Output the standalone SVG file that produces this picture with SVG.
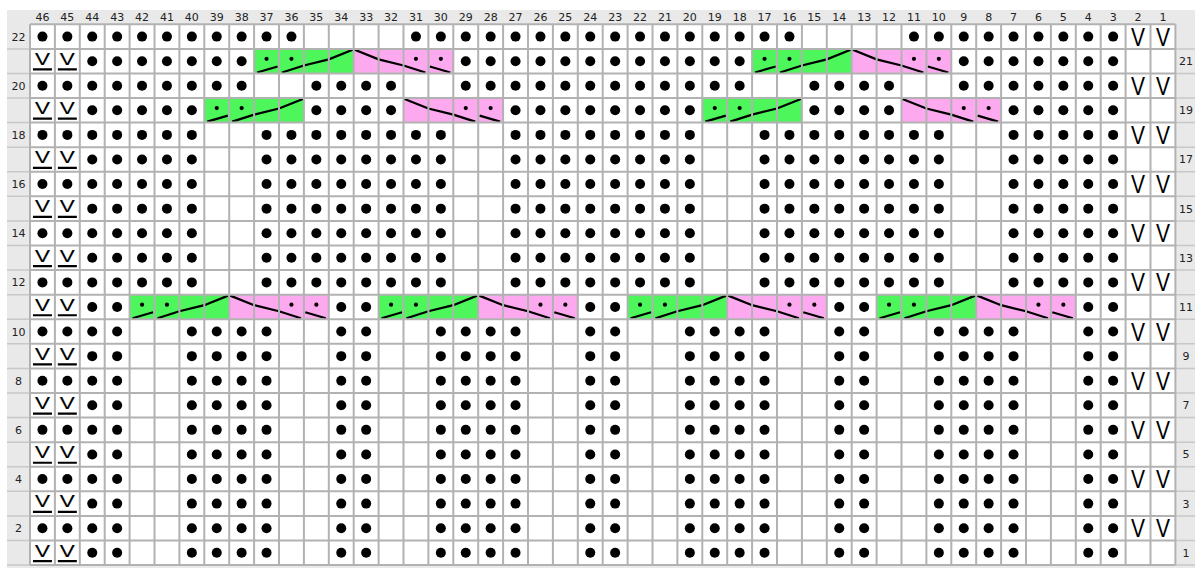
<svg xmlns="http://www.w3.org/2000/svg" xmlns:xlink="http://www.w3.org/1999/xlink" width="1195" height="568" viewBox="0 0 1195 568">
<style>
.hd{font-family:"DejaVu Sans","Liberation Sans",sans-serif;font-size:11px;fill:#222;text-anchor:middle}
.V{font-family:"Liberation Sans",Arial,sans-serif;font-size:26.5px;text-anchor:middle;fill:#000}
.vu{font-family:"Liberation Sans",Arial,sans-serif;font-size:16.3px;text-anchor:middle;fill:#000;stroke:#000;stroke-width:0.15}
.ln{fill:none;stroke:#000;stroke-width:2.2}
.grid{fill:none;stroke:#b2b2b2;stroke-width:2}
.lab{fill:none;stroke:#c8c8c8;stroke-width:1.5}
</style>
<defs>
<g id="S">
<path class="ln" d="M3 11.3L23.5 5.3M27.9 11.3L49.8 4.3L74.7 -1.8L99.2 -11.6"/>
<circle cx="12.45" cy="-2.3" r="2.1"/><circle cx="37.35" cy="-2.3" r="2.1"/>
</g>
<g id="G"><rect x="0" y="-12.29" width="99.6" height="24.58" fill="#4cf65b"/><use href="#S"/></g>
<g id="P"><rect x="0" y="-12.29" width="99.6" height="24.58" fill="#fca9ef"/><use href="#S" transform="matrix(-1 0 0 1 99.6 0)"/></g>
<g id="eE"><circle cx="42.45" r="5"/><circle cx="67.35" r="5"/><text class="V" x="1138.05" y="9.1" textLength="14" lengthAdjust="spacingAndGlyphs">V</text><text class="V" x="1162.95" y="9.1" textLength="14" lengthAdjust="spacingAndGlyphs">V</text></g>
<g id="oE"><text class="vu" x="42.45" y="3.8" textLength="15" lengthAdjust="spacingAndGlyphs">V</text><text class="vu" x="67.35" y="3.8" textLength="15" lengthAdjust="spacingAndGlyphs">V</text><path class="ln" d="M32.95 8.3H51.95M57.85 8.3H76.85"/></g>
<g id="core1">
<circle cx="92.25" r="5"/><circle cx="117.15" r="5"/><circle cx="142.05" r="5"/><circle cx="166.95" r="5"/><circle cx="191.85" r="5"/>
<circle cx="266.55" r="5"/><circle cx="291.45" r="5"/><circle cx="316.35" r="5"/><circle cx="341.25" r="5"/><circle cx="366.15" r="5"/><circle cx="391.05" r="5"/><circle cx="415.95" r="5"/><circle cx="440.85" r="5"/>
<circle cx="515.55" r="5"/><circle cx="540.45" r="5"/><circle cx="565.35" r="5"/><circle cx="590.25" r="5"/><circle cx="615.15" r="5"/><circle cx="640.05" r="5"/><circle cx="664.95" r="5"/><circle cx="689.85" r="5"/>
<circle cx="764.55" r="5"/><circle cx="789.45" r="5"/><circle cx="814.35" r="5"/><circle cx="839.25" r="5"/><circle cx="864.15" r="5"/><circle cx="889.05" r="5"/><circle cx="913.95" r="5"/><circle cx="938.85" r="5"/>
<circle cx="1013.55" r="5"/><circle cx="1038.45" r="5"/><circle cx="1063.35" r="5"/><circle cx="1088.25" r="5"/><circle cx="1113.15" r="5"/>
</g>
<g id="core2">
<circle cx="92.25" r="5"/><circle cx="117.15" r="5"/>
<circle cx="191.85" r="5"/><circle cx="216.75" r="5"/><circle cx="241.65" r="5"/><circle cx="266.55" r="5"/>
<circle cx="341.25" r="5"/><circle cx="366.15" r="5"/>
<circle cx="440.85" r="5"/><circle cx="465.75" r="5"/><circle cx="490.65" r="5"/><circle cx="515.55" r="5"/>
<circle cx="590.25" r="5"/><circle cx="615.15" r="5"/>
<circle cx="689.85" r="5"/><circle cx="714.75" r="5"/><circle cx="739.65" r="5"/><circle cx="764.55" r="5"/>
<circle cx="839.25" r="5"/><circle cx="864.15" r="5"/>
<circle cx="938.85" r="5"/><circle cx="963.75" r="5"/><circle cx="988.65" r="5"/><circle cx="1013.55" r="5"/>
<circle cx="1088.25" r="5"/><circle cx="1113.15" r="5"/>
</g>
</defs>
<rect width="1195" height="568" fill="#fff"/>
<rect x="7" y="10" width="1188" height="558" fill="#e9e9e9"/>
<rect x="30" y="24.3" width="1145.4" height="540.76" fill="#fff"/>
<g id="header">
<text class="hd" x="42.45" y="20.5">46</text><text class="hd" x="67.35" y="20.5">45</text><text class="hd" x="92.25" y="20.5">44</text><text class="hd" x="117.15" y="20.5">43</text><text class="hd" x="142.05" y="20.5">42</text><text class="hd" x="166.95" y="20.5">41</text><text class="hd" x="191.85" y="20.5">40</text><text class="hd" x="216.75" y="20.5">39</text><text class="hd" x="241.65" y="20.5">38</text><text class="hd" x="266.55" y="20.5">37</text><text class="hd" x="291.45" y="20.5">36</text><text class="hd" x="316.35" y="20.5">35</text><text class="hd" x="341.25" y="20.5">34</text><text class="hd" x="366.15" y="20.5">33</text><text class="hd" x="391.05" y="20.5">32</text><text class="hd" x="415.95" y="20.5">31</text><text class="hd" x="440.85" y="20.5">30</text><text class="hd" x="465.75" y="20.5">29</text><text class="hd" x="490.65" y="20.5">28</text><text class="hd" x="515.55" y="20.5">27</text><text class="hd" x="540.45" y="20.5">26</text><text class="hd" x="565.35" y="20.5">25</text><text class="hd" x="590.25" y="20.5">24</text><text class="hd" x="615.15" y="20.5">23</text><text class="hd" x="640.05" y="20.5">22</text><text class="hd" x="664.95" y="20.5">21</text><text class="hd" x="689.85" y="20.5">20</text><text class="hd" x="714.75" y="20.5">19</text><text class="hd" x="739.65" y="20.5">18</text><text class="hd" x="764.55" y="20.5">17</text><text class="hd" x="789.45" y="20.5">16</text><text class="hd" x="814.35" y="20.5">15</text><text class="hd" x="839.25" y="20.5">14</text><text class="hd" x="864.15" y="20.5">13</text><text class="hd" x="889.05" y="20.5">12</text><text class="hd" x="913.95" y="20.5">11</text><text class="hd" x="938.85" y="20.5">10</text><text class="hd" x="963.75" y="20.5">9</text><text class="hd" x="988.65" y="20.5">8</text><text class="hd" x="1013.55" y="20.5">7</text><text class="hd" x="1038.45" y="20.5">6</text><text class="hd" x="1063.35" y="20.5">5</text><text class="hd" x="1088.25" y="20.5">4</text><text class="hd" x="1113.15" y="20.5">3</text><text class="hd" x="1138.05" y="20.5">2</text><text class="hd" x="1162.95" y="20.5">1</text>
</g>
<g id="row-labels">
<text class="hd" x="18.5" y="40.59">22</text><text class="hd" x="18.5" y="89.75">20</text><text class="hd" x="18.5" y="138.91">18</text><text class="hd" x="18.5" y="188.07">16</text><text class="hd" x="18.5" y="237.23">14</text><text class="hd" x="18.5" y="286.39">12</text><text class="hd" x="18.5" y="335.55">10</text><text class="hd" x="18.5" y="384.71">8</text><text class="hd" x="18.5" y="433.87">6</text><text class="hd" x="18.5" y="483.03">4</text><text class="hd" x="18.5" y="532.19">2</text>
<text class="hd" x="1186" y="65.17">21</text><text class="hd" x="1186" y="114.33">19</text><text class="hd" x="1186" y="163.49">17</text><text class="hd" x="1186" y="212.65">15</text><text class="hd" x="1186" y="261.81">13</text><text class="hd" x="1186" y="310.97">11</text><text class="hd" x="1186" y="360.13">9</text><text class="hd" x="1186" y="409.29">7</text><text class="hd" x="1186" y="458.45">5</text><text class="hd" x="1186" y="507.61">3</text><text class="hd" x="1186" y="556.77">1</text>
</g>
<g id="row22" transform="translate(0,36.59)">
<use href="#eE"/>
<circle cx="92.25" r="5"/><circle cx="117.15" r="5"/><circle cx="142.05" r="5"/><circle cx="166.95" r="5"/><circle cx="191.85" r="5"/><circle cx="216.75" r="5"/><circle cx="241.65" r="5"/><circle cx="266.55" r="5"/><circle cx="291.45" r="5"/>
<circle cx="415.95" r="5"/><circle cx="440.85" r="5"/><circle cx="465.75" r="5"/><circle cx="490.65" r="5"/><circle cx="515.55" r="5"/><circle cx="540.45" r="5"/><circle cx="565.35" r="5"/><circle cx="590.25" r="5"/><circle cx="615.15" r="5"/><circle cx="640.05" r="5"/><circle cx="664.95" r="5"/><circle cx="689.85" r="5"/><circle cx="714.75" r="5"/><circle cx="739.65" r="5"/><circle cx="764.55" r="5"/><circle cx="789.45" r="5"/>
<circle cx="913.95" r="5"/><circle cx="938.85" r="5"/><circle cx="963.75" r="5"/><circle cx="988.65" r="5"/><circle cx="1013.55" r="5"/><circle cx="1038.45" r="5"/><circle cx="1063.35" r="5"/><circle cx="1088.25" r="5"/><circle cx="1113.15" r="5"/>
</g>
<g id="row21" transform="translate(0,61.17)">
<use href="#oE"/>
<circle cx="92.25" r="5"/><circle cx="117.15" r="5"/><circle cx="142.05" r="5"/><circle cx="166.95" r="5"/><circle cx="191.85" r="5"/><circle cx="216.75" r="5"/><circle cx="241.65" r="5"/>
<use href="#G" x="254.1"/><use href="#P" x="353.7"/>
<circle cx="465.75" r="5"/><circle cx="490.65" r="5"/><circle cx="515.55" r="5"/><circle cx="540.45" r="5"/><circle cx="565.35" r="5"/><circle cx="590.25" r="5"/><circle cx="615.15" r="5"/><circle cx="640.05" r="5"/><circle cx="664.95" r="5"/><circle cx="689.85" r="5"/><circle cx="714.75" r="5"/><circle cx="739.65" r="5"/>
<use href="#G" x="752.1"/><use href="#P" x="851.7"/>
<circle cx="963.75" r="5"/><circle cx="988.65" r="5"/><circle cx="1013.55" r="5"/><circle cx="1038.45" r="5"/><circle cx="1063.35" r="5"/><circle cx="1088.25" r="5"/><circle cx="1113.15" r="5"/>
</g>
<g id="row20" transform="translate(0,85.75)">
<use href="#eE"/>
<circle cx="92.25" r="5"/><circle cx="117.15" r="5"/><circle cx="142.05" r="5"/><circle cx="166.95" r="5"/><circle cx="191.85" r="5"/><circle cx="216.75" r="5"/><circle cx="241.65" r="5"/>
<circle cx="316.35" r="5"/><circle cx="341.25" r="5"/><circle cx="366.15" r="5"/><circle cx="391.05" r="5"/>
<circle cx="465.75" r="5"/><circle cx="490.65" r="5"/><circle cx="515.55" r="5"/><circle cx="540.45" r="5"/><circle cx="565.35" r="5"/><circle cx="590.25" r="5"/><circle cx="615.15" r="5"/><circle cx="640.05" r="5"/><circle cx="664.95" r="5"/><circle cx="689.85" r="5"/><circle cx="714.75" r="5"/><circle cx="739.65" r="5"/>
<circle cx="814.35" r="5"/><circle cx="839.25" r="5"/><circle cx="864.15" r="5"/><circle cx="889.05" r="5"/>
<circle cx="963.75" r="5"/><circle cx="988.65" r="5"/><circle cx="1013.55" r="5"/><circle cx="1038.45" r="5"/><circle cx="1063.35" r="5"/><circle cx="1088.25" r="5"/><circle cx="1113.15" r="5"/>
</g>
<g id="row19" transform="translate(0,110.33)">
<use href="#oE"/>
<circle cx="92.25" r="5"/><circle cx="117.15" r="5"/><circle cx="142.05" r="5"/><circle cx="166.95" r="5"/><circle cx="191.85" r="5"/>
<use href="#G" x="204.3"/>
<circle cx="316.35" r="5"/><circle cx="341.25" r="5"/><circle cx="366.15" r="5"/><circle cx="391.05" r="5"/>
<use href="#P" x="403.5"/>
<circle cx="515.55" r="5"/><circle cx="540.45" r="5"/><circle cx="565.35" r="5"/><circle cx="590.25" r="5"/><circle cx="615.15" r="5"/><circle cx="640.05" r="5"/><circle cx="664.95" r="5"/><circle cx="689.85" r="5"/>
<use href="#G" x="702.3"/>
<circle cx="814.35" r="5"/><circle cx="839.25" r="5"/><circle cx="864.15" r="5"/><circle cx="889.05" r="5"/>
<use href="#P" x="901.5"/>
<circle cx="1013.55" r="5"/><circle cx="1038.45" r="5"/><circle cx="1063.35" r="5"/><circle cx="1088.25" r="5"/><circle cx="1113.15" r="5"/>
</g>
<g id="row18" transform="translate(0,134.91)"><use href="#eE"/><use href="#core1"/></g>
<g id="row17" transform="translate(0,159.49)"><use href="#oE"/><use href="#core1"/></g>
<g id="row16" transform="translate(0,184.07)"><use href="#eE"/><use href="#core1"/></g>
<g id="row15" transform="translate(0,208.65)"><use href="#oE"/><use href="#core1"/></g>
<g id="row14" transform="translate(0,233.23)"><use href="#eE"/><use href="#core1"/></g>
<g id="row13" transform="translate(0,257.81)"><use href="#oE"/><use href="#core1"/></g>
<g id="row12" transform="translate(0,282.39)"><use href="#eE"/><use href="#core1"/></g>
<g id="row11" transform="translate(0,306.97)">
<use href="#oE"/>
<circle cx="92.25" r="5"/><circle cx="117.15" r="5"/>
<use href="#G" x="129.6"/><use href="#P" x="229.2"/>
<circle cx="341.25" r="5"/><circle cx="366.15" r="5"/>
<use href="#G" x="378.6"/><use href="#P" x="478.2"/>
<circle cx="590.25" r="5"/><circle cx="615.15" r="5"/>
<use href="#G" x="627.6"/><use href="#P" x="727.2"/>
<circle cx="839.25" r="5"/><circle cx="864.15" r="5"/>
<use href="#G" x="876.6"/><use href="#P" x="976.2"/>
<circle cx="1088.25" r="5"/><circle cx="1113.15" r="5"/>
</g>
<g id="row10" transform="translate(0,331.55)"><use href="#eE"/><use href="#core2"/></g>
<g id="row9" transform="translate(0,356.13)"><use href="#oE"/><use href="#core2"/></g>
<g id="row8" transform="translate(0,380.71)"><use href="#eE"/><use href="#core2"/></g>
<g id="row7" transform="translate(0,405.29)"><use href="#oE"/><use href="#core2"/></g>
<g id="row6" transform="translate(0,429.87)"><use href="#eE"/><use href="#core2"/></g>
<g id="row5" transform="translate(0,454.45)"><use href="#oE"/><use href="#core2"/></g>
<g id="row4" transform="translate(0,479.03)"><use href="#eE"/><use href="#core2"/></g>
<g id="row3" transform="translate(0,503.61)"><use href="#oE"/><use href="#core2"/></g>
<g id="row2" transform="translate(0,528.19)"><use href="#eE"/><use href="#core2"/></g>
<g id="row1" transform="translate(0,552.77)"><use href="#oE"/><use href="#core2"/></g>
<g id="gridlines">
<path class="lab" d="M7 48.88H30M7 73.46H30M7 98.04H30M7 122.62H30M7 147.2H30M7 171.78H30M7 196.36H30M7 220.94H30M7 245.52H30M7 270.1H30M7 294.68H30M7 319.26H30M7 343.84H30M7 368.42H30M7 393H30M7 417.58H30M7 442.16H30M7 466.74H30M7 491.32H30M7 515.9H30M7 540.48H30M7 565.06H30M1175.4 48.88H1195M1175.4 73.46H1195M1175.4 98.04H1195M1175.4 122.62H1195M1175.4 147.2H1195M1175.4 171.78H1195M1175.4 196.36H1195M1175.4 220.94H1195M1175.4 245.52H1195M1175.4 270.1H1195M1175.4 294.68H1195M1175.4 319.26H1195M1175.4 343.84H1195M1175.4 368.42H1195M1175.4 393H1195M1175.4 417.58H1195M1175.4 442.16H1195M1175.4 466.74H1195M1175.4 491.32H1195M1175.4 515.9H1195M1175.4 540.48H1195M1175.4 565.06H1195"/>
<path class="grid" d="M30 24.3V565.06M54.9 24.3V565.06M79.8 24.3V565.06M104.7 24.3V565.06M129.6 24.3V565.06M154.5 24.3V565.06M179.4 24.3V565.06M204.3 24.3V565.06M229.2 24.3V565.06M254.1 24.3V565.06M279 24.3V565.06M303.9 24.3V565.06M328.8 24.3V565.06M353.7 24.3V565.06M378.6 24.3V565.06M403.5 24.3V565.06M428.4 24.3V565.06M453.3 24.3V565.06M478.2 24.3V565.06M503.1 24.3V565.06M528 24.3V565.06M552.9 24.3V565.06M577.8 24.3V565.06M602.7 24.3V565.06M627.6 24.3V565.06M652.5 24.3V565.06M677.4 24.3V565.06M702.3 24.3V565.06M727.2 24.3V565.06M752.1 24.3V565.06M777 24.3V565.06M801.9 24.3V565.06M826.8 24.3V565.06M851.7 24.3V565.06M876.6 24.3V565.06M901.5 24.3V565.06M926.4 24.3V565.06M951.3 24.3V565.06M976.2 24.3V565.06M1001.1 24.3V565.06M1026 24.3V565.06M1050.9 24.3V565.06M1075.8 24.3V565.06M1100.7 24.3V565.06M1125.6 24.3V565.06M1150.5 24.3V565.06M1175.4 24.3V565.06
M30 24.3H1175.4M30 48.88H1175.4M30 73.46H1175.4M30 98.04H1175.4M30 122.62H1175.4M30 147.2H1175.4M30 171.78H1175.4M30 196.36H1175.4M30 220.94H1175.4M30 245.52H1175.4M30 270.1H1175.4M30 294.68H1175.4M30 319.26H1175.4M30 343.84H1175.4M30 368.42H1175.4M30 393H1175.4M30 417.58H1175.4M30 442.16H1175.4M30 466.74H1175.4M30 491.32H1175.4M30 515.9H1175.4M30 540.48H1175.4M30 565.06H1175.4"/>
</g>
</svg>
